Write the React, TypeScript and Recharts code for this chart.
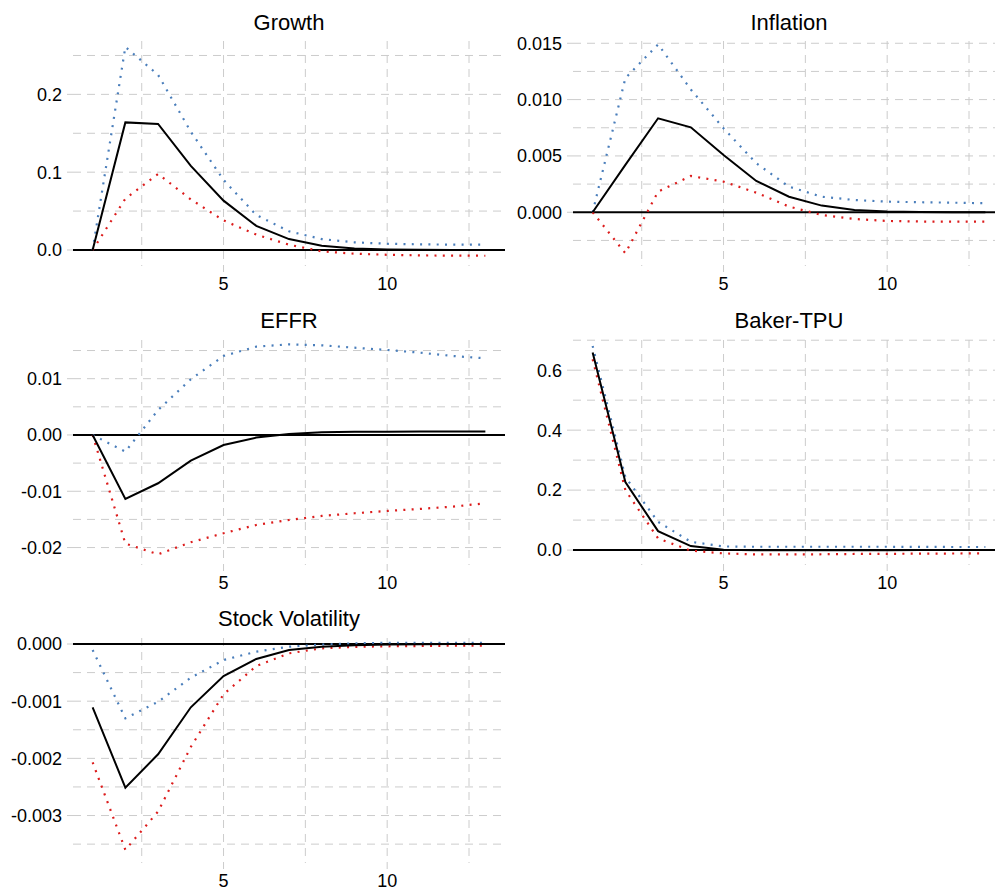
import React from "react";
import {
  LineChart,
  Line,
  XAxis,
  YAxis,
  CartesianGrid,
  ReferenceLine,
} from "recharts";

// Horizons
const horizons = [1, 2, 3, 4, 5, 6, 7, 8, 9, 10, 11, 12, 13];
const xTicks = [5, 10];
const xMinor = [2.5, 5, 7.5, 10, 12.5];

// Growth
const growthMid = [0, 0.164, 0.162, 0.108, 0.0634, 0.031, 0.014, 0.0055, 0.002, 0.0007, 0.0003, 0.0001, 0];
const growthUpper = [0, 0.261, 0.225, 0.152, 0.09, 0.045, 0.024, 0.014, 0.0098, 0.008, 0.0072, 0.0069, 0.0068];
const growthLower = [0, 0.066, 0.0977, 0.065, 0.038, 0.0197, 0.0068, -0.0018, -0.0048, -0.0062, -0.007, -0.0073, -0.0074];
const growthTicks = [0, 0.1, 0.2];
const growthGrid = [0.05, 0.1, 0.15, 0.2, 0.25];

// Inflation
const inflMid = [0, 0.0042, 0.00834, 0.00754, 0.00509, 0.00278, 0.00138, 0.00059, 0.0002, 0.00006, 0.00002, 0, 0];
const inflUpper = [0, 0.0119, 0.0149, 0.0109, 0.00745, 0.00435, 0.00227, 0.00138, 0.00109, 0.00094, 0.00089, 0.00085, 0.0008];
const inflLower = [0, -0.00364, 0.00183, 0.00322, 0.00272, 0.00174, 0.0005, -0.00024, -0.0006, -0.00077, -0.00082, -0.00084, -0.00084];
const inflTicks = [0, 0.005, 0.01, 0.015];
const inflGrid = [-0.0025, 0.0025, 0.005, 0.0075, 0.01, 0.0125, 0.015];

// EFFR
const effrMid = [0, -0.01137, -0.00858, -0.00456, -0.00178, -0.00047, 0.00018, 0.00047, 0.00056, 0.00059, 0.0006, 0.0006, 0.0006];
const effrUpper = [0, -0.00296, 0.00444, 0.0099, 0.01403, 0.01569, 0.0161, 0.01593, 0.0155, 0.0151, 0.01462, 0.01403, 0.01362];
const effrLower = [0, -0.0193, -0.0212, -0.01906, -0.01746, -0.01599, -0.0151, -0.01439, -0.01391, -0.0135, -0.01314, -0.01273, -0.01214];
const effrTicks = [-0.02, -0.01, 0, 0.01];
const effrGrid = [-0.02, -0.015, -0.01, -0.005, 0.005, 0.01, 0.015];

// Baker-TPU
const tpuMid = [0.6587, 0.2269, 0.0631, 0.0133, 0.001, -0.0005, -0.0005, -0.0004, -0.0003, -0.0002, -0.0001, -0.0001, 0];
const tpuUpper = [0.681, 0.2435, 0.094, 0.0277, 0.012, 0.011, 0.011, 0.011, 0.011, 0.011, 0.0105, 0.0103, 0.0102];
const tpuLower = [0.6365, 0.2, 0.0388, -0.002, -0.011, -0.0144, -0.0144, -0.014, -0.013, -0.0125, -0.012, -0.0115, -0.011];
const tpuTicks = [0, 0.2, 0.4, 0.6];
const tpuGrid = [0.1, 0.2, 0.3, 0.4, 0.5, 0.6, 0.7];

// Stock Volatility
const volMid = [-0.001107, -0.002512, -0.001929, -0.001107, -0.00056, -0.000262, -0.000105, -0.000047, -0.00002, -0.000008, -0.000003, 0, 0];
const volUpper = [-0.000105, -0.0013, -0.00101, -0.00059, -0.00028, -0.000134, -0.000047, -0.00001, 0.000012, 0.00002, 0.00002, 0.00002, 0.00002];
const volLower = [-0.00207, -0.0036, -0.00293, -0.0018, -0.00088, -0.000385, -0.000163, -0.000076, -0.00005, -0.00004, -0.000035, -0.00003, -0.00003];
const volTicks = [-0.003, -0.002, -0.001, 0];
const volGrid = [-0.0035, -0.003, -0.0025, -0.002, -0.0015, -0.001, -0.0005];

const FONT = "'Liberation Sans', Arial, Helvetica, sans-serif";
const BLUE = "#4a7ebb";
const RED = "#dc1c1c";
const GRID = "#cccccc";

const Y_AXIS_W = 70;
const PLOT_W = 432;
const PLOT_H = 225;
const X_AXIS_H = 32;
const TOP_PAD = 20;

type PanelProps = {
  title: string;
  mid: number[];
  upper: number[];
  lower: number[];
  domain: [number, number];
  ticks: number[];
  grid: number[];
  digits: number;
  left: number;
  top: number;
  titleTop: number;
};

function Panel(p: PanelProps) {
  const data = horizons.map((h, i) => ({
    h,
    mid: p.mid[i],
    upper: p.upper[i],
    lower: p.lower[i],
  }));
  const fmt = (v: number) => {
    const s = v.toFixed(p.digits);
    return Math.abs(v) < 1e-12 ? (0).toFixed(p.digits) : s;
  };
  return (
    <>
      <div
        style={{
          position: "absolute",
          left: p.left,
          top: p.titleTop,
          width: PLOT_W,
          textAlign: "center",
          fontSize: 22,
          lineHeight: "22px",
          fontFamily: FONT,
          color: "#000",
        }}
      >
        {p.title}
      </div>
      <div style={{ position: "absolute", left: p.left - Y_AXIS_W, top: p.top - TOP_PAD }}>
        <LineChart
          width={Y_AXIS_W + PLOT_W}
          height={PLOT_H + X_AXIS_H + TOP_PAD}
          data={data}
          margin={{ top: TOP_PAD, right: 0, bottom: 0, left: 0 }}
        >
          <CartesianGrid
            stroke={GRID}
            strokeDasharray="8 6"
            horizontalValues={p.grid}
            verticalValues={xMinor}
          />
          <XAxis
            dataKey="h"
            type="number"
            domain={[0.4, 13.6]}
            allowDataOverflow
            ticks={xTicks}
            interval={0}
            height={X_AXIS_H}
            axisLine={false}
            tickLine={{ stroke: GRID }}
            tickSize={6}
            tickMargin={5}
            tick={{ fill: "#000", fontSize: 18, fontFamily: FONT }}
          />
          <YAxis
            type="number"
            domain={p.domain}
            allowDataOverflow
            ticks={p.ticks}
            interval={0}
            width={Y_AXIS_W}
            axisLine={false}
            tickLine={{ stroke: GRID }}
            tickSize={6}
            tickMargin={5}
            tickFormatter={fmt}
            tick={{ fill: "#000", fontSize: 18, fontFamily: FONT }}
          />
          <ReferenceLine y={0} stroke="#000" strokeWidth={2} />
          <Line
            dataKey="upper"
            type="linear"
            stroke={BLUE}
            strokeWidth={2.2}
            strokeDasharray="2 6.3"
            dot={false}
            activeDot={false}
            isAnimationActive={false}
          />
          <Line
            dataKey="lower"
            type="linear"
            stroke={RED}
            strokeWidth={2.2}
            strokeDasharray="2 6.3"
            dot={false}
            activeDot={false}
            isAnimationActive={false}
          />
          <Line
            dataKey="mid"
            type="linear"
            stroke="#000"
            strokeWidth={2}
            dot={false}
            activeDot={false}
            isAnimationActive={false}
          />
        </LineChart>
      </div>
    </>
  );
}

export default function App() {
  return (
    <div
      style={{
        position: "absolute",
        left: 0,
        top: 0,
        width: 995,
        height: 893,
        overflow: "hidden",
        background: "#fff",
      }}
    >
      <Panel title="Growth" mid={growthMid} upper={growthUpper} lower={growthLower}
        domain={[-0.0206, 0.2686]} ticks={growthTicks} grid={growthGrid} digits={1}
        left={73} top={41} titleTop={11.5} />
      <Panel title="Inflation" mid={inflMid} upper={inflUpper} lower={inflLower}
        domain={[-0.00477, 0.0152]} ticks={inflTicks} grid={inflGrid} digits={3}
        left={573} top={41} titleTop={11.5} />
      <Panel title="EFFR" mid={effrMid} upper={effrUpper} lower={effrLower}
        domain={[-0.0231, 0.01687]} ticks={effrTicks} grid={effrGrid} digits={2}
        left={73} top={340} titleTop={309.5} />
      <Panel title="Baker-TPU" mid={tpuMid} upper={tpuUpper} lower={tpuLower}
        domain={[-0.0498, 0.7007]} ticks={tpuTicks} grid={tpuGrid} digits={1}
        left={573} top={340} titleTop={309.5} />
      <Panel title="Stock Volatility" mid={volMid} upper={volUpper} lower={volLower}
        domain={[-0.00383, 0.000105]} ticks={volTicks} grid={volGrid} digits={3}
        left={73} top={638} titleTop={608} />
    </div>
  );
}
